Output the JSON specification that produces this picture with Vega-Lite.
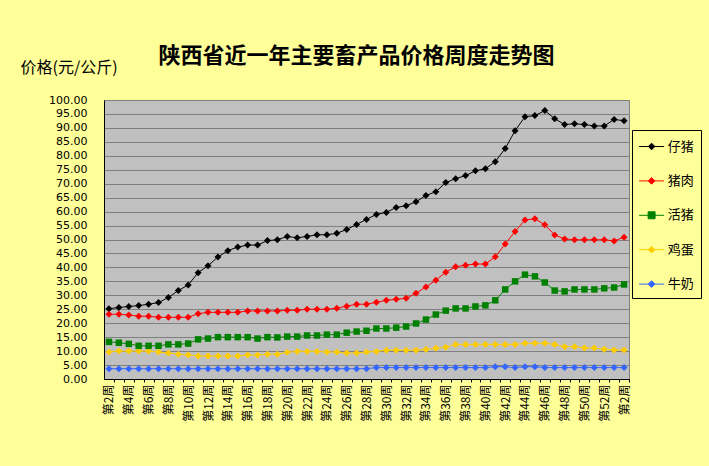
{
"$schema": "https://vega.github.io/schema/vega-lite/v6.json",
"width": 525, "height": 279,
"autosize": {"type": "none"},
"padding": {"left": 104, "top": 100, "right": 80, "bottom": 87},
"background": "#FFFF99",
"title": {"text": "陕西省近一年主要畜产品价格周度走势图", "font": "Noto Sans CJK SC", "fontSize": 22, "fontWeight": "bold", "color": "#000000", "anchor": "middle", "frame": "group", "dx": -10, "dy": 9, "offset": 0},
"config": {
  "view": {"fill": "#C0C0C0", "stroke": "#808080", "strokeWidth": 1},
  "axis": {"labelFont": "Noto Sans CJK SC", "titleFont": "Noto Sans CJK SC", "labelColor": "#000000", "titleColor": "#000000"}
},
"data": {"values": [
{"idx":0,"week":"第2周","series":"仔猪","price":25.2},{"idx":1,"week":"第3周","series":"仔猪","price":25.6},{"idx":2,"week":"第4周","series":"仔猪","price":26.0},{"idx":3,"week":"第5周","series":"仔猪","price":26.3},{"idx":4,"week":"第6周","series":"仔猪","price":26.8},{"idx":5,"week":"第7周","series":"仔猪","price":27.4},{"idx":6,"week":"第8周","series":"仔猪","price":29.2},{"idx":7,"week":"第9周","series":"仔猪","price":31.7},{"idx":8,"week":"第10周","series":"仔猪","price":33.7},{"idx":9,"week":"第11周","series":"仔猪","price":38.1},
{"idx":10,"week":"第12周","series":"仔猪","price":40.6},{"idx":11,"week":"第13周","series":"仔猪","price":43.7},{"idx":12,"week":"第14周","series":"仔猪","price":46.0},{"idx":13,"week":"第15周","series":"仔猪","price":47.3},{"idx":14,"week":"第16周","series":"仔猪","price":48.0},{"idx":15,"week":"第17周","series":"仔猪","price":48.0},{"idx":16,"week":"第18周","series":"仔猪","price":49.6},{"idx":17,"week":"第19周","series":"仔猪","price":49.9},{"idx":18,"week":"第20周","series":"仔猪","price":51.1},{"idx":19,"week":"第21周","series":"仔猪","price":50.6},
{"idx":20,"week":"第22周","series":"仔猪","price":51.1},{"idx":21,"week":"第23周","series":"仔猪","price":51.7},{"idx":22,"week":"第24周","series":"仔猪","price":51.7},{"idx":23,"week":"第25周","series":"仔猪","price":52.2},{"idx":24,"week":"第26周","series":"仔猪","price":53.6},{"idx":25,"week":"第27周","series":"仔猪","price":55.4},{"idx":26,"week":"第28周","series":"仔猪","price":57.2},{"idx":27,"week":"第29周","series":"仔猪","price":59.0},{"idx":28,"week":"第30周","series":"仔猪","price":59.7},{"idx":29,"week":"第31周","series":"仔猪","price":61.5},
{"idx":30,"week":"第32周","series":"仔猪","price":62.1},{"idx":31,"week":"第33周","series":"仔猪","price":63.5},{"idx":32,"week":"第34周","series":"仔猪","price":65.8},{"idx":33,"week":"第35周","series":"仔猪","price":67.1},{"idx":34,"week":"第36周","series":"仔猪","price":70.4},{"idx":35,"week":"第37周","series":"仔猪","price":71.8},{"idx":36,"week":"第38周","series":"仔猪","price":72.9},{"idx":37,"week":"第39周","series":"仔猪","price":74.6},{"idx":38,"week":"第40周","series":"仔猪","price":75.4},{"idx":39,"week":"第41周","series":"仔猪","price":77.9},
{"idx":40,"week":"第42周","series":"仔猪","price":82.6},{"idx":41,"week":"第43周","series":"仔猪","price":89.0},{"idx":42,"week":"第44周","series":"仔猪","price":94.0},{"idx":43,"week":"第45周","series":"仔猪","price":94.4},{"idx":44,"week":"第46周","series":"仔猪","price":96.2},{"idx":45,"week":"第47周","series":"仔猪","price":93.3},{"idx":46,"week":"第48周","series":"仔猪","price":91.2},{"idx":47,"week":"第49周","series":"仔猪","price":91.5},{"idx":48,"week":"第50周","series":"仔猪","price":91.2},{"idx":49,"week":"第51周","series":"仔猪","price":90.7},
{"idx":50,"week":"第52周","series":"仔猪","price":90.7},{"idx":51,"week":"第1周","series":"仔猪","price":93.0},{"idx":52,"week":"第2周","series":"仔猪","price":92.6},
{"idx":0,"week":"第2周","series":"猪肉","price":23.2},{"idx":1,"week":"第3周","series":"猪肉","price":23.2},{"idx":2,"week":"第4周","series":"猪肉","price":22.9},{"idx":3,"week":"第5周","series":"猪肉","price":22.5},{"idx":4,"week":"第6周","series":"猪肉","price":22.5},{"idx":5,"week":"第7周","series":"猪肉","price":22.1},{"idx":6,"week":"第8周","series":"猪肉","price":22.1},{"idx":7,"week":"第9周","series":"猪肉","price":22.1},{"idx":8,"week":"第10周","series":"猪肉","price":22.1},{"idx":9,"week":"第11周","series":"猪肉","price":23.4},
{"idx":10,"week":"第12周","series":"猪肉","price":23.9},{"idx":11,"week":"第13周","series":"猪肉","price":23.9},{"idx":12,"week":"第14周","series":"猪肉","price":23.9},{"idx":13,"week":"第15周","series":"猪肉","price":23.9},{"idx":14,"week":"第16周","series":"猪肉","price":24.4},{"idx":15,"week":"第17周","series":"猪肉","price":24.4},{"idx":16,"week":"第18周","series":"猪肉","price":24.4},{"idx":17,"week":"第19周","series":"猪肉","price":24.4},{"idx":18,"week":"第20周","series":"猪肉","price":24.6},{"idx":19,"week":"第21周","series":"猪肉","price":24.6},
{"idx":20,"week":"第22周","series":"猪肉","price":25.0},{"idx":21,"week":"第23周","series":"猪肉","price":25.0},{"idx":22,"week":"第24周","series":"猪肉","price":25.0},{"idx":23,"week":"第25周","series":"猪肉","price":25.4},{"idx":24,"week":"第26周","series":"猪肉","price":26.1},{"idx":25,"week":"第27周","series":"猪肉","price":26.8},{"idx":26,"week":"第28周","series":"猪肉","price":26.8},{"idx":27,"week":"第29周","series":"猪肉","price":27.5},{"idx":28,"week":"第30周","series":"猪肉","price":28.2},{"idx":29,"week":"第31周","series":"猪肉","price":28.6},
{"idx":30,"week":"第32周","series":"猪肉","price":28.9},{"idx":31,"week":"第33周","series":"猪肉","price":30.7},{"idx":32,"week":"第34周","series":"猪肉","price":33.0},{"idx":33,"week":"第35周","series":"猪肉","price":35.4},{"idx":34,"week":"第36周","series":"猪肉","price":38.3},{"idx":35,"week":"第37周","series":"猪肉","price":40.2},{"idx":36,"week":"第38周","series":"猪肉","price":40.8},{"idx":37,"week":"第39周","series":"猪肉","price":41.2},{"idx":38,"week":"第40周","series":"猪肉","price":41.2},{"idx":39,"week":"第41周","series":"猪肉","price":43.8},
{"idx":40,"week":"第42周","series":"猪肉","price":48.4},{"idx":41,"week":"第43周","series":"猪肉","price":52.9},{"idx":42,"week":"第44周","series":"猪肉","price":57.0},{"idx":43,"week":"第45周","series":"猪肉","price":57.4},{"idx":44,"week":"第46周","series":"猪肉","price":55.3},{"idx":45,"week":"第47周","series":"猪肉","price":51.6},{"idx":46,"week":"第48周","series":"猪肉","price":50.2},{"idx":47,"week":"第49周","series":"猪肉","price":49.9},{"idx":48,"week":"第50周","series":"猪肉","price":49.9},{"idx":49,"week":"第51周","series":"猪肉","price":49.9},
{"idx":50,"week":"第52周","series":"猪肉","price":49.9},{"idx":51,"week":"第1周","series":"猪肉","price":49.5},{"idx":52,"week":"第2周","series":"猪肉","price":50.8},
{"idx":0,"week":"第2周","series":"活猪","price":13.3},{"idx":1,"week":"第3周","series":"活猪","price":13.0},{"idx":2,"week":"第4周","series":"活猪","price":12.6},{"idx":3,"week":"第5周","series":"活猪","price":11.9},{"idx":4,"week":"第6周","series":"活猪","price":11.9},{"idx":5,"week":"第7周","series":"活猪","price":11.9},{"idx":6,"week":"第8周","series":"活猪","price":12.4},{"idx":7,"week":"第9周","series":"活猪","price":12.4},{"idx":8,"week":"第10周","series":"活猪","price":12.7},{"idx":9,"week":"第11周","series":"活猪","price":14.2},
{"idx":10,"week":"第12周","series":"活猪","price":14.5},{"idx":11,"week":"第13周","series":"活猪","price":15.0},{"idx":12,"week":"第14周","series":"活猪","price":15.0},{"idx":13,"week":"第15周","series":"活猪","price":15.0},{"idx":14,"week":"第16周","series":"活猪","price":15.0},{"idx":15,"week":"第17周","series":"活猪","price":14.5},{"idx":16,"week":"第18周","series":"活猪","price":15.0},{"idx":17,"week":"第19周","series":"活猪","price":14.9},{"idx":18,"week":"第20周","series":"活猪","price":15.2},{"idx":19,"week":"第21周","series":"活猪","price":15.2},
{"idx":20,"week":"第22周","series":"活猪","price":15.6},{"idx":21,"week":"第23周","series":"活猪","price":15.6},{"idx":22,"week":"第24周","series":"活猪","price":15.9},{"idx":23,"week":"第25周","series":"活猪","price":15.9},{"idx":24,"week":"第26周","series":"活猪","price":16.6},{"idx":25,"week":"第27周","series":"活猪","price":17.0},{"idx":26,"week":"第28周","series":"活猪","price":17.3},{"idx":27,"week":"第29周","series":"活猪","price":18.1},{"idx":28,"week":"第30周","series":"活猪","price":18.1},{"idx":29,"week":"第31周","series":"活猪","price":18.4},
{"idx":30,"week":"第32周","series":"活猪","price":18.8},{"idx":31,"week":"第33周","series":"活猪","price":19.9},{"idx":32,"week":"第34周","series":"活猪","price":21.3},{"idx":33,"week":"第35周","series":"活猪","price":23.1},{"idx":34,"week":"第36周","series":"活猪","price":24.5},{"idx":35,"week":"第37周","series":"活猪","price":25.3},{"idx":36,"week":"第38周","series":"活猪","price":25.3},{"idx":37,"week":"第39周","series":"活猪","price":26.0},{"idx":38,"week":"第40周","series":"活猪","price":26.4},{"idx":39,"week":"第41周","series":"活猪","price":28.2},
{"idx":40,"week":"第42周","series":"活猪","price":32.1},{"idx":41,"week":"第43周","series":"活猪","price":35.0},{"idx":42,"week":"第44周","series":"活猪","price":37.4},{"idx":43,"week":"第45周","series":"活猪","price":36.8},{"idx":44,"week":"第46周","series":"活猪","price":34.6},{"idx":45,"week":"第47周","series":"活猪","price":31.7},{"idx":46,"week":"第48周","series":"活猪","price":31.4},{"idx":47,"week":"第49周","series":"活猪","price":32.1},{"idx":48,"week":"第50周","series":"活猪","price":32.1},{"idx":49,"week":"第51周","series":"活猪","price":32.1},
{"idx":50,"week":"第52周","series":"活猪","price":32.5},{"idx":51,"week":"第1周","series":"活猪","price":32.8},{"idx":52,"week":"第2周","series":"活猪","price":33.9},
{"idx":0,"week":"第2周","series":"鸡蛋","price":9.7},{"idx":1,"week":"第3周","series":"鸡蛋","price":10.0},{"idx":2,"week":"第4周","series":"鸡蛋","price":10.0},{"idx":3,"week":"第5周","series":"鸡蛋","price":10.0},{"idx":4,"week":"第6周","series":"鸡蛋","price":10.0},{"idx":5,"week":"第7周","series":"鸡蛋","price":9.7},{"idx":6,"week":"第8周","series":"鸡蛋","price":9.3},{"idx":7,"week":"第9周","series":"鸡蛋","price":8.9},{"idx":8,"week":"第10周","series":"鸡蛋","price":8.6},{"idx":9,"week":"第11周","series":"鸡蛋","price":8.2},
{"idx":10,"week":"第12周","series":"鸡蛋","price":8.2},{"idx":11,"week":"第13周","series":"鸡蛋","price":8.2},{"idx":12,"week":"第14周","series":"鸡蛋","price":8.2},{"idx":13,"week":"第15周","series":"鸡蛋","price":8.2},{"idx":14,"week":"第16周","series":"鸡蛋","price":8.6},{"idx":15,"week":"第17周","series":"鸡蛋","price":8.6},{"idx":16,"week":"第18周","series":"鸡蛋","price":8.9},{"idx":17,"week":"第19周","series":"鸡蛋","price":8.9},{"idx":18,"week":"第20周","series":"鸡蛋","price":9.6},{"idx":19,"week":"第21周","series":"鸡蛋","price":9.9},
{"idx":20,"week":"第22周","series":"鸡蛋","price":9.9},{"idx":21,"week":"第23周","series":"鸡蛋","price":9.9},{"idx":22,"week":"第24周","series":"鸡蛋","price":9.7},{"idx":23,"week":"第25周","series":"鸡蛋","price":9.7},{"idx":24,"week":"第26周","series":"鸡蛋","price":9.3},{"idx":25,"week":"第27周","series":"鸡蛋","price":9.3},{"idx":26,"week":"第28周","series":"鸡蛋","price":9.7},{"idx":27,"week":"第29周","series":"鸡蛋","price":9.9},{"idx":28,"week":"第30周","series":"鸡蛋","price":10.3},{"idx":29,"week":"第31周","series":"鸡蛋","price":10.3},
{"idx":30,"week":"第32周","series":"鸡蛋","price":10.3},{"idx":31,"week":"第33周","series":"鸡蛋","price":10.3},{"idx":32,"week":"第34周","series":"鸡蛋","price":10.6},{"idx":33,"week":"第35周","series":"鸡蛋","price":11.0},{"idx":34,"week":"第36周","series":"鸡蛋","price":11.4},{"idx":35,"week":"第37周","series":"鸡蛋","price":12.4},{"idx":36,"week":"第38周","series":"鸡蛋","price":12.4},{"idx":37,"week":"第39周","series":"鸡蛋","price":12.4},{"idx":38,"week":"第40周","series":"鸡蛋","price":12.4},{"idx":39,"week":"第41周","series":"鸡蛋","price":12.4},
{"idx":40,"week":"第42周","series":"鸡蛋","price":12.4},{"idx":41,"week":"第43周","series":"鸡蛋","price":12.4},{"idx":42,"week":"第44周","series":"鸡蛋","price":12.8},{"idx":43,"week":"第45周","series":"鸡蛋","price":12.8},{"idx":44,"week":"第46周","series":"鸡蛋","price":12.8},{"idx":45,"week":"第47周","series":"鸡蛋","price":12.4},{"idx":46,"week":"第48周","series":"鸡蛋","price":11.6},{"idx":47,"week":"第49周","series":"鸡蛋","price":11.6},{"idx":48,"week":"第50周","series":"鸡蛋","price":11.1},{"idx":49,"week":"第51周","series":"鸡蛋","price":11.1},
{"idx":50,"week":"第52周","series":"鸡蛋","price":10.7},{"idx":51,"week":"第1周","series":"鸡蛋","price":10.4},{"idx":52,"week":"第2周","series":"鸡蛋","price":10.4},
{"idx":0,"week":"第2周","series":"牛奶","price":3.7},{"idx":1,"week":"第3周","series":"牛奶","price":3.7},{"idx":2,"week":"第4周","series":"牛奶","price":3.7},{"idx":3,"week":"第5周","series":"牛奶","price":3.7},{"idx":4,"week":"第6周","series":"牛奶","price":3.7},{"idx":5,"week":"第7周","series":"牛奶","price":3.7},{"idx":6,"week":"第8周","series":"牛奶","price":3.7},{"idx":7,"week":"第9周","series":"牛奶","price":3.7},{"idx":8,"week":"第10周","series":"牛奶","price":3.7},{"idx":9,"week":"第11周","series":"牛奶","price":3.7},
{"idx":10,"week":"第12周","series":"牛奶","price":3.7},{"idx":11,"week":"第13周","series":"牛奶","price":3.7},{"idx":12,"week":"第14周","series":"牛奶","price":3.7},{"idx":13,"week":"第15周","series":"牛奶","price":3.7},{"idx":14,"week":"第16周","series":"牛奶","price":3.7},{"idx":15,"week":"第17周","series":"牛奶","price":3.7},{"idx":16,"week":"第18周","series":"牛奶","price":3.7},{"idx":17,"week":"第19周","series":"牛奶","price":3.7},{"idx":18,"week":"第20周","series":"牛奶","price":3.7},{"idx":19,"week":"第21周","series":"牛奶","price":3.7},
{"idx":20,"week":"第22周","series":"牛奶","price":3.7},{"idx":21,"week":"第23周","series":"牛奶","price":3.7},{"idx":22,"week":"第24周","series":"牛奶","price":3.7},{"idx":23,"week":"第25周","series":"牛奶","price":3.7},{"idx":24,"week":"第26周","series":"牛奶","price":3.7},{"idx":25,"week":"第27周","series":"牛奶","price":3.7},{"idx":26,"week":"第28周","series":"牛奶","price":3.7},{"idx":27,"week":"第29周","series":"牛奶","price":4.1},{"idx":28,"week":"第30周","series":"牛奶","price":4.1},{"idx":29,"week":"第31周","series":"牛奶","price":4.1},
{"idx":30,"week":"第32周","series":"牛奶","price":4.1},{"idx":31,"week":"第33周","series":"牛奶","price":4.1},{"idx":32,"week":"第34周","series":"牛奶","price":4.1},{"idx":33,"week":"第35周","series":"牛奶","price":4.1},{"idx":34,"week":"第36周","series":"牛奶","price":4.1},{"idx":35,"week":"第37周","series":"牛奶","price":4.1},{"idx":36,"week":"第38周","series":"牛奶","price":4.1},{"idx":37,"week":"第39周","series":"牛奶","price":4.1},{"idx":38,"week":"第40周","series":"牛奶","price":4.1},{"idx":39,"week":"第41周","series":"牛奶","price":4.4},
{"idx":40,"week":"第42周","series":"牛奶","price":4.4},{"idx":41,"week":"第43周","series":"牛奶","price":4.1},{"idx":42,"week":"第44周","series":"牛奶","price":4.4},{"idx":43,"week":"第45周","series":"牛奶","price":4.4},{"idx":44,"week":"第46周","series":"牛奶","price":4.1},{"idx":45,"week":"第47周","series":"牛奶","price":4.1},{"idx":46,"week":"第48周","series":"牛奶","price":4.1},{"idx":47,"week":"第49周","series":"牛奶","price":4.1},{"idx":48,"week":"第50周","series":"牛奶","price":4.1},{"idx":49,"week":"第51周","series":"牛奶","price":4.1},
{"idx":50,"week":"第52周","series":"牛奶","price":4.1},{"idx":51,"week":"第1周","series":"牛奶","price":4.1},{"idx":52,"week":"第2周","series":"牛奶","price":4.1}
]},
"encoding": {
  "x": {"field": "idx", "type": "ordinal", "scale": {"type": "point", "padding": 0.5},
    "axis": {"title": null, "labelAngle": 270, "labelExpr": "datum.value % 2 == 0 ? (datum.value <= 50 ? '第' + (datum.value + 2) + '周' : '第' + (datum.value - 50) + '周') : ''", "grid": false, "tickSize": 3, "tickOffset": 4.95, "labelOffset": -4.95, "domainColor": "#000000", "tickColor": "#000000", "labelFontSize": 12, "labelPadding": 2}},
  "y": {"field": "price", "type": "quantitative", "scale": {"domain": [0, 100], "nice": false},
    "axis": {"title": "价格(元/公斤)", "titleAngle": 0, "titleAlign": "left", "titleBaseline": "middle", "titleX": -84, "titleY": -33, "titleFontSize": 16, "titleFontWeight": "normal", "values": [0,5,10,15,20,25,30,35,40,45,50,55,60,65,70,75,80,85,90,95,100], "format": ".2f", "labelFont": "DejaVu Sans", "labelFontSize": 11, "labelPadding": 17, "ticks": false, "domainColor": "#000000", "gridColor": "#808080", "gridOpacity": 1}},
  "color": {"field": "series", "type": "nominal",
    "scale": {"domain": ["仔猪","猪肉","活猪","鸡蛋","牛奶"], "range": ["#000000","#FF0000","#008000","#FFCC00","#3366FF"]},
    "legend": {"orient": "none", "legendX": 528, "legendY": 30, "title": null, "padding": 6.5, "strokeColor": "#000000", "fillColor": "#FFFF99", "symbolSize": 353, "symbolType": "M-1,0H1.66M0.33,-0.35L0.68,0L0.33,0.35L-0.02,0Z", "symbolStrokeWidth": 1, "labelFont": "Noto Sans CJK SC", "labelFontSize": 13, "labelColor": "#000000", "labelOffset": 9.2, "rowPadding": 17.4,
      "encode": {"symbols": {"update": {"shape": {"signal": "datum.value === '活猪' ? 'M-1,0H1.66M-0.04,-0.37H0.7V0.37H-0.04Z' : 'M-1,0H1.66M0.33,-0.35L0.68,0L0.33,0.35L-0.02,0Z'"}, "fill": {"scale": "color", "field": "value"}, "stroke": {"scale": "color", "field": "value"}, "opacity": {"value": 1}}}}}}
},
"layer": [
  {"mark": {"type": "line", "strokeWidth": 1}},
  {"transform": [{"filter": "datum.series !== '活猪'"}],
   "mark": {"type": "point", "shape": "diamond", "filled": true, "size": 49, "opacity": 1}},
  {"transform": [{"filter": "datum.series === '活猪'"}],
   "mark": {"type": "point", "shape": "square", "filled": true, "size": 42, "opacity": 1}}
]
}
